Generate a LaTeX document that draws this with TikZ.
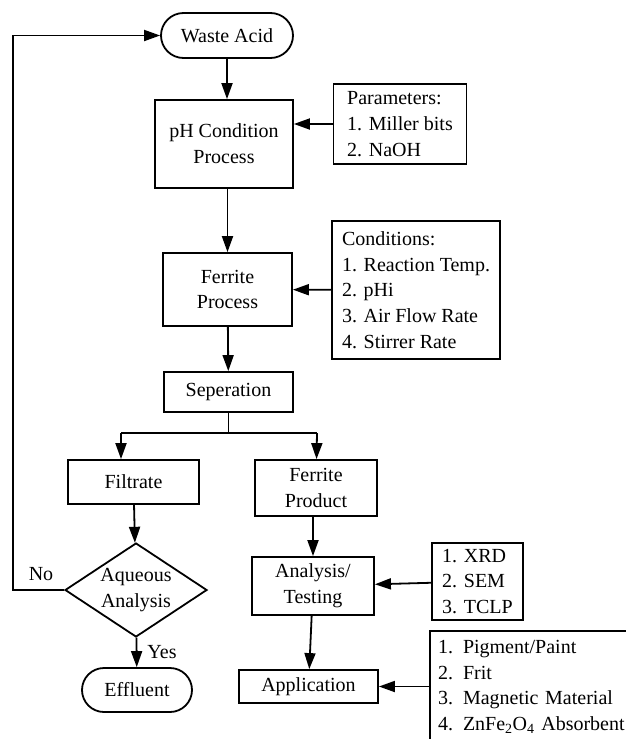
\documentclass[tikz,border=0pt]{standalone}
\usepackage{fontspec}
\setmainfont{Liberation Serif}
\usetikzlibrary{arrows.meta,shapes.misc,shapes.geometric}

\tikzset{
  procbox/.style={draw, line width=1.8pt, rectangle, align=center, inner sep=0pt},
  listbox/.style={draw, line width=1.8pt, rectangle, align=left, inner sep=0pt},
  endbox/.style={draw, line width=1.8pt, rounded rectangle, align=center, inner sep=0pt},
  testbox/.style={draw, line width=1.8pt, diamond, aspect=1.51, align=center, inner sep=0pt},
  flow/.style={line width=1.8pt, -{Triangle[length=16pt,width=11pt]}},
  plain/.style={line width=1.8pt}
}

\begin{document}
\begin{tikzpicture}[x=1pt, y=-1pt, font=\fontsize{20}{25.7}\selectfont]
    \useasboundingbox (0,0) rectangle (625,739);
    % First, locate each of the nodes and name them
    \node[endbox, minimum width=132, minimum height=45] (wasteacid) at (227,35.5) {Waste Acid};
    \node[procbox, minimum width=138, minimum height=88] (phcond) at (224,144) {pH Condition\\Process};
    \node[listbox, minimum width=133, minimum height=80] (params) at (400,124) {Parameters:\\1. Miller bits\\2. NaOH};
    \node[procbox, minimum width=129, minimum height=73] (ferrite) at (227.5,289.5) {Ferrite\\Process};
    \node[listbox, minimum width=168, minimum height=138] (conds) at (416,290) {Conditions:\\1. Reaction Temp.\\2. pHi\\3. Air Flow Rate\\4. Stirrer Rate};
    \node[procbox, minimum width=129, minimum height=40] (sep) at (228.5,392) {Seperation};
    \node[procbox, minimum width=131, minimum height=44] (filtrate) at (133.5,482) {Filtrate};
    \node[procbox, minimum width=122, minimum height=56] (product) at (316,488) {Ferrite\\Product};
    \node[testbox, minimum width=142, minimum height=94] (aqueous) at (136,590) {Aqueous\\Analysis};
    \node[endbox, minimum width=110, minimum height=44] (effluent) at (137,690) {Effluent};
    \node[procbox, minimum width=122, minimum height=58] (testing) at (313,586) {Analysis/\\Testing};
    \node[listbox, minimum width=91, minimum height=77] (xrd) at (477.5,581.5) {1. XRD\\2. SEM\\3. TCLP};
    \node[procbox, minimum width=139, minimum height=33] (application) at (308.5,686.5) {Application};
    \node[listbox, minimum width=270, minimum height=112, text width=254, inner xsep=8] (uses) at (565,687)
      {1. Pigment/Paint\\2. Frit\\3. Magnetic Material\\4. ZnFe\textsubscript{2}O\textsubscript{4} Absorbent};
    \node (no) at (41,574) {No};
    \node (yes) at (162,652) {Yes};
    \coordinate (loop) at (13,590);
    \coordinate (splitL) at (121,433);
    \coordinate (splitR) at (317,433);
    % Now draw the lines
    \draw[flow] (wasteacid.south) -- (wasteacid.south |- phcond.north);
    \draw[flow] (params.west) -- (params.west -| phcond.east);
    \draw[flow] (phcond.south -| ferrite.north) -- (ferrite.north);
    \draw[flow] (conds) -- (ferrite);
    \draw[flow] (ferrite) -- (sep);
    \draw[plain] (sep.south) -- (sep.south |- splitL);
    \draw[plain] (splitL) -- (splitR);
    \draw[flow] (splitL) -- (splitL |- filtrate.north);
    \draw[flow] (splitR) -- (product);
    \draw[flow] (filtrate) -- (aqueous);
    \draw[flow] (aqueous) -- (effluent);
    \draw[flow] (aqueous.west) -- (loop) |- (wasteacid.west);
    \draw[flow] (product.south -| testing.north) -- (testing.north);
    \draw[flow] (xrd) -- (testing);
    \draw[flow] (testing) -- (application);
    \draw[flow] (uses.west |- application) -- (application);
\end{tikzpicture}
\end{document}
